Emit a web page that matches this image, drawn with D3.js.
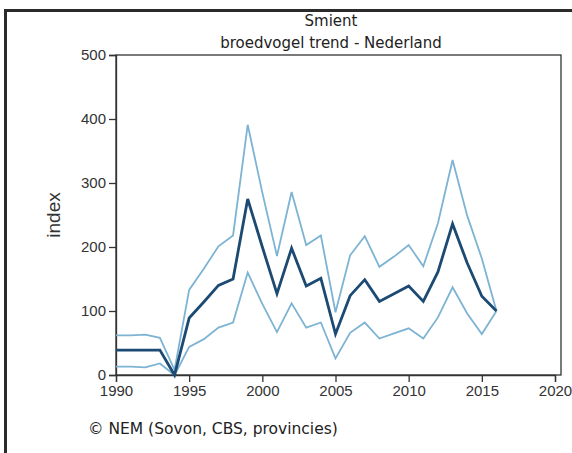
<!DOCTYPE html>
<html><head><meta charset="utf-8">
<script src="https://cdn.jsdelivr.net/npm/d3@7/dist/d3.min.js"></script>
<style>html,body{margin:0;padding:0;background:#fff;}svg{display:block;}</style>
</head><body>
<svg id="c" width="572" height="453"></svg>
<script>
const years = d3.range(1990, 2017);
const indexValues = [39,39,39,39,0,89,114,140,150,275,200,127,198,139,151,64,124,149,115,127,139,115,161,236,175,123,100];
const upperValues = [62,62,63,58,8,133,166,201,218,391,285,186,286,203,218,98,187,217,169,185,203,170,237,336,249,182,100];
const lowerValues = [13,13,12,18,0,44,56,74,82,160,111,67,112,74,82,26,66,82,57,65,73,57,90,137,96,64,100];
const xTicks = [1990,1995,2000,2005,2010,2015,2020];
const yTicks = [0,100,200,300,400,500];
const titleLines = ["Smient","broedvogel trend - Nederland"];
const yLabel = "index";
const credit = "\u00A9 NEM (Sovon, CBS, provincies)";

const svg = d3.select("#c");
const pL = 116, pR = 555, pT = 55, pB = 375, frameRight = 561;
const x = d3.scaleLinear().domain([1990, 2020]).range([pL, pR]);
const y = d3.scaleLinear().domain([0, 500]).range([pB, pT]);

// outer frame
svg.append("path").attr("d", "M5.5,453 L5.5,10.5 L572,10.5")
  .attr("fill","none").attr("stroke","#2b2b2b").attr("stroke-width",3);

// plot frame
svg.append("rect").attr("x", pL).attr("y", pT).attr("width", frameRight-pL).attr("height", pB-pT)
  .attr("fill","none").attr("stroke","#333").attr("stroke-width",1.3);

const axFont = "'Liberation Sans', Arial, sans-serif";
const yAxis = svg.append("g").attr("transform",`translate(${pL},0)`)
  .call(d3.axisLeft(y).tickValues(yTicks).tickSize(7).tickPadding(3).tickFormat(d3.format("d")));
const xAxis = svg.append("g").attr("transform",`translate(0,${pB})`)
  .call(d3.axisBottom(x).tickValues(xTicks).tickSize(7).tickPadding(3).tickFormat(d3.format("d")));
[xAxis,yAxis].forEach(g=>{
  g.select(".domain").attr("stroke","#333").attr("stroke-width",1.3);
  g.selectAll(".tick line").attr("stroke","#333").attr("stroke-width",1.3);
  g.selectAll("text").attr("font-family",axFont).attr("font-size",15).attr("fill","#333");
});

const line = vals => d3.line().x((d,i)=>x(years[i])).y(d=>y(d))(vals);
svg.append("path").attr("d", line(upperValues)).attr("fill","none").attr("stroke","#7db3d3").attr("stroke-width",1.8);
svg.append("path").attr("d", line(lowerValues)).attr("fill","none").attr("stroke","#7db3d3").attr("stroke-width",1.8);
svg.append("path").attr("d", line(indexValues)).attr("fill","none").attr("stroke","#1c4a72").attr("stroke-width",2.8).attr("stroke-linejoin","miter");

const tFont = "'DejaVu Sans', Verdana, sans-serif";
svg.append("text").attr("x",331).attr("y",26).attr("text-anchor","middle").attr("font-family",tFont).attr("font-size",15).attr("fill","#222").text(titleLines[0]);
svg.append("text").attr("x",331).attr("y",48).attr("text-anchor","middle").attr("font-family",tFont).attr("font-size",15).attr("fill","#222").text(titleLines[1]);

svg.append("text").attr("transform","translate(60,215) rotate(-90)").attr("text-anchor","middle")
  .attr("font-family",axFont).attr("font-size",19).attr("fill","#333").text(yLabel);

svg.append("text").attr("x",88).attr("y",434).attr("font-family",tFont).attr("font-size",15.5).attr("fill","#222").text(credit);
</script>
</body></html>
